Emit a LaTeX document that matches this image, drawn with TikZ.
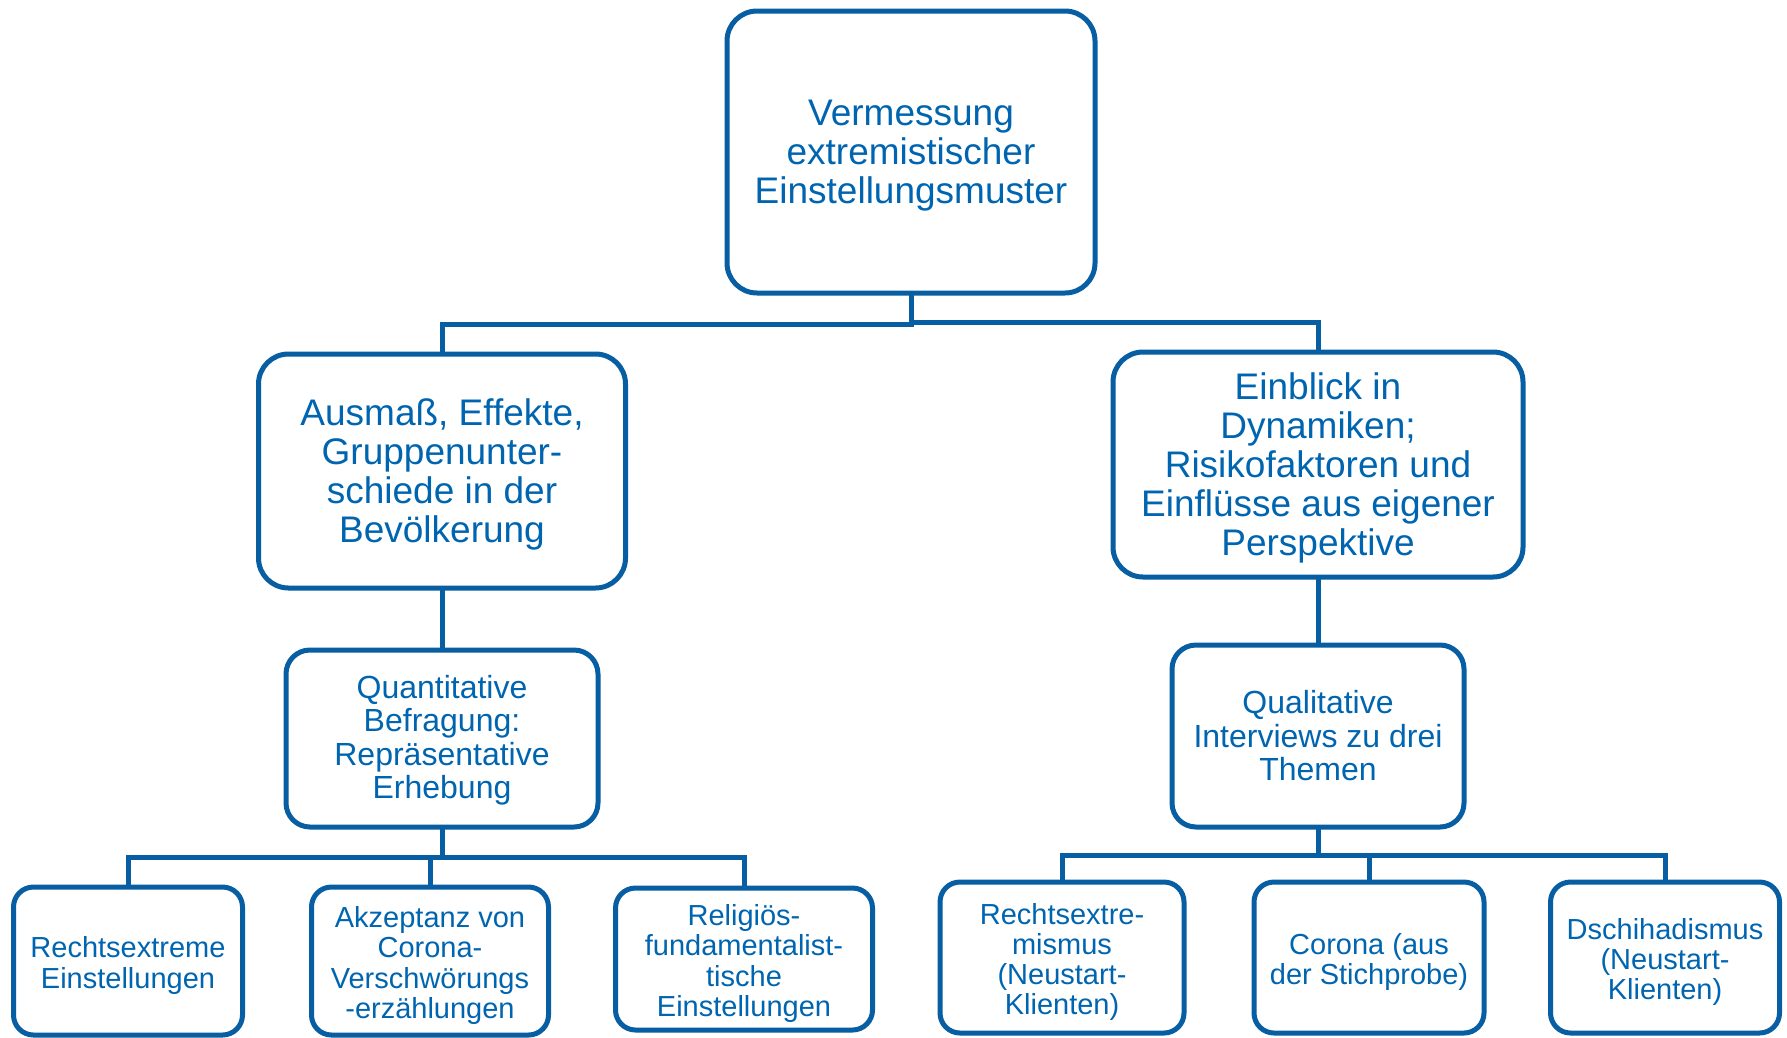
\documentclass[tikz,border=0pt]{standalone}
\usepackage{fontspec}
\setmainfont{Liberation Sans}
\usetikzlibrary{calc}
\definecolor{lblue}{RGB}{8,94,162}
\definecolor{tblue}{RGB}{0,101,176}
\begin{document}
\begin{tikzpicture}[x=1pt,y=-1pt,
  box/.style={draw=lblue, line width=5pt, fill=white, inner sep=0pt, outer sep=0pt},
  bigbox/.style={box, rounded corners=30pt},
  midbox/.style={box, rounded corners=24pt},
  smallbox/.style={box, rounded corners=20pt},
  txt/.style={text=tblue, align=center, inner sep=0pt},
  bigtxt/.style={txt, font=\fontsize{37}{39}\selectfont, yshift=-3.5pt},
  midtxt/.style={txt, font=\fontsize{32}{33.5}\selectfont, yshift=-1.5pt},
  smalltxt/.style={txt, font=\fontsize{29}{30.3}\selectfont, yshift=-4.5pt},
  conn/.style={draw=lblue, line width=5pt}]
\useasboundingbox (0,0) rectangle (1787,1037);
\clip (0,0) rectangle (1787,1037);

\node[bigbox, minimum width=368pt, minimum height=282pt,
  label={[bigtxt]center:{Vermessung\\extremistischer\\Einstellungsmuster}}] (top) at (911,152) {};
\node[bigbox, minimum width=367pt, minimum height=234pt,
  label={[bigtxt]center:{Ausmaß, Effekte,\\Gruppenunter-\\schiede in der\\Bevölkerung}}] (ml) at (442,471) {};
\node[bigbox, minimum width=410pt, minimum height=225pt,
  label={[bigtxt]center:{Einblick in\\Dynamiken;\\Risikofaktoren und\\Einflüsse aus eigener\\Perspektive}}] (mr) at (1318,464.5) {};
\node[midbox, minimum width=312pt, minimum height=177pt,
  label={[midtxt]center:{Quantitative\\Befragung:\\Repräsentative\\Erhebung}}] (quant) at (442,738.5) {};
\node[midbox, minimum width=292pt, minimum height=182pt,
  label={[midtxt, yshift=1.5pt]center:{Qualitative\\Interviews zu drei\\Themen}}] (qual) at (1318,736) {};

\node[smallbox, minimum width=229pt, minimum height=148pt,
  label={[smalltxt]center:{Rechtsextreme\\Einstellungen}}] (b1) at (128,961) {};
\node[smallbox, minimum width=237pt, minimum height=148pt,
  label={[smalltxt]center:{Akzeptanz von\\Corona-\\Verschwörungs\\-erzählungen}}] (b2) at (430,961) {};
\node[smallbox, minimum width=257pt, minimum height=142pt,
  label={[smalltxt]center:{Religiös-\\fundamentalist-\\tische\\Einstellungen}}] (b3) at (744,959) {};
\node[smallbox, minimum width=244pt, minimum height=151pt,
  label={[smalltxt]center:{Rechtsextre-\\mismus\\(Neustart-\\Klienten)}}] (b4) at (1062,957.5) {};
\node[smallbox, minimum width=230pt, minimum height=151pt,
  label={[smalltxt]center:{Corona (aus\\der Stichprobe)}}] (b5) at (1369,957.5) {};
\node[smallbox, minimum width=229pt, minimum height=151pt,
  label={[smalltxt]center:{Dschihadismus\\(Neustart-\\Klienten)}}] (b6) at (1665,957.5) {};

\draw[conn] (top.south) |- ($(ml.north)+(0,-30)$) -- (ml.north);
\draw[conn] (top.south) |- ($(mr.north)+(0,-30)$) -- (mr.north);
\draw[conn] (ml.south) -- (quant.north);
\draw[conn] (mr.south) -- (qual.north);
\draw[conn] (quant.south) |- ($(b1.north)+(0,-30)$) -- (b1.north);
\draw[conn] (quant.south) |- ($(b2.north)+(0,-30)$) -- (b2.north);
\draw[conn] (quant.south) |- ($(b3.north)+(0,-31)$) -- (b3.north);
\draw[conn] (qual.south) |- ($(b4.north)+(0,-27)$) -- (b4.north);
\draw[conn] (qual.south) |- ($(b5.north)+(0,-27)$) -- (b5.north);
\draw[conn] (qual.south) |- ($(b6.north)+(0,-27)$) -- (b6.north);
\end{tikzpicture}
\end{document}
